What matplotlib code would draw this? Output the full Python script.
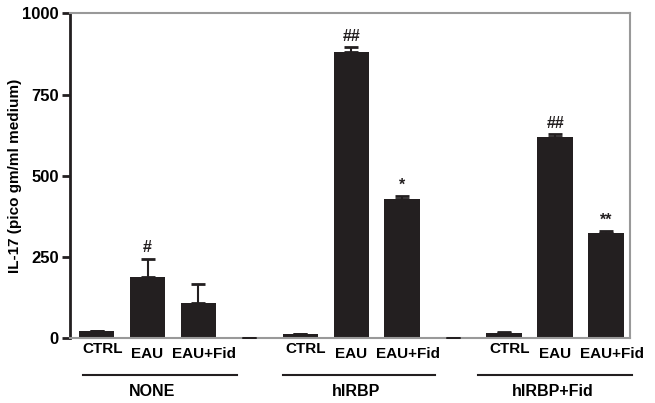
import numpy as np
import matplotlib.pyplot as plt
import matplotlib.transforms as mtransforms

plt.rcParams['font.family'] = ['Liberation Sans', 'DejaVu Sans']
plt.rcParams['font.weight'] = 'bold'
plt.rcParams['axes.labelweight'] = 'bold'

# valores (IL-17, pico gm/ml)
rotulos = ['CTRL', 'EAU', 'EAU+Fid', '', 'CTRL', 'EAU', 'EAU+Fid', '', 'CTRL', 'EAU', 'EAU+Fid']
medias = [21, 189, 110, 2, 12, 881, 428, 2, 15, 618, 323]
erros = [3, 56, 56, 0, 2, 15, 10, 0, 5, 11, 7]
marcas = ['', '#', '', '', '', '##', '*', '', '', '##', '**']
grupos = ['NONE', 'hIRBP', 'hIRBP+Fid']
grupo_lim = [(-0.27, 2.75), (3.65, 6.65), (7.49, 10.5)]
grupo_centro = [1.08, 5.1, 8.95]

cor = '#231f20'
x = np.arange(len(medias))

fig = plt.figure(figsize=(6.55, 4.03), dpi=100)
ax = fig.add_axes([0.107, 0.1605, 0.855, 0.8065])

ax.bar(x, medias, width=0.7, color=cor, zorder=2)
ax.errorbar(x, medias, yerr=[np.zeros(len(erros)), erros], fmt='none',
            ecolor=cor, elinewidth=1.5, capsize=5, capthick=2, zorder=3)

for xi, m, e, s in zip(x, medias, erros, marcas):
    if s:
        ax.text(xi, m + e + 10, s, ha='center', va='bottom', fontsize=11.5,
                color=cor)

ax.set_xlim(-0.52, 10.47)
ax.set_ylim(0, 1000)
ax.set_yticks([0, 250, 500, 750, 1000])
ax.tick_params(axis='y', labelsize=12, width=2, length=6, color=cor, pad=2)
ax.tick_params(axis='x', length=0, pad=6)
ax.set_xticks(x)
ax.set_xticklabels(rotulos, fontsize=11)
ax.set_ylabel('IL-17 (pico gm/ml medium)', fontsize=11)
ax.yaxis.set_label_coords(-0.086, 0.5)

# pequenos deslocamentos dos rótulos como no original
for lab in ax.get_xticklabels():
    t = lab.get_text()
    if t == 'CTRL':
        dx, dy = 4 / 72, 3 / 72
    elif t == 'EAU+Fid':
        dx, dy = 4 / 72, 0
    else:
        dx, dy = 0, 0
    lab.set_transform(lab.get_transform() +
                      mtransforms.ScaledTranslation(dx, dy, fig.dpi_scale_trans))

ax.spines['left'].set_color(cor)
ax.spines['left'].set_linewidth(2)
for lado in ['top', 'right', 'bottom']:
    ax.spines[lado].set_color('#999999')
    ax.spines[lado].set_linewidth(1.5)

trans = mtransforms.blended_transform_factory(ax.transData, ax.transAxes)
for nome, (a, b), c in zip(grupos, grupo_lim, grupo_centro):
    ax.plot([a, b], [-0.113, -0.113], color=cor, lw=1.5, transform=trans,
            clip_on=False)
    ax.text(c, -0.165, nome, transform=trans, ha='center', va='center',
            fontsize=11.5)

fig.savefig('out.png', dpi=100)
